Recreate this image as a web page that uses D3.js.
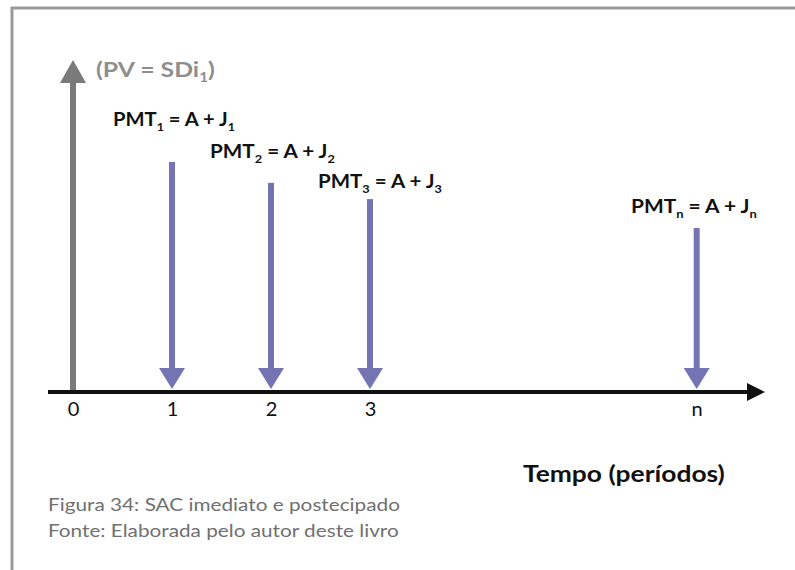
<!DOCTYPE html>
<html>
<head>
<meta charset="utf-8">
<script src="https://cdn.jsdelivr.net/npm/d3@7"></script>
<style>
  body { margin: 0; background: #fff; }
  svg { display: block; }
</style>
</head>
<body>
<div id="chart"></div>
<script>
// periods on the time line and their position (n sits further out)
const periods = ['0', '1', '2', '3', 'n'];
const periodPos = [0, 1, 2, 3, 6.3];
// principal at t=0 (up arrow) and the payments (down arrows), relative sizes
const pvValue = 100;
const pmtValues = [69.3, 63, 58.1, 49.4];
const pmtSubs = ['1', '2', '3', 'n'];
const captionLines = ['Figura 34: SAC imediato e postecipado', 'Fonte: Elaborada pelo autor deste livro'];

const createGraph = () => {
  const width = 795;
  const height = 570;
  const axisY = 392;
  const blue = '#7474b2';

  const x = d3.scaleLinear().domain([0, 1]).range([73, 172]);
  const y = d3.scaleLinear().domain([0, 100]).range([axisY, 60]);

  const svg = d3.select('#chart').append('svg')
    .attr('width', width)
    .attr('height', height)
    .style('font-family', 'Lato, sans-serif');

  // frame (top + left only)
  svg.append('path')
    .attr('d', `M12,${height} V8 H${width}`)
    .attr('fill', 'none')
    .attr('stroke', '#9a9a9a')
    .attr('stroke-width', 3);

  // PV arrow (up)
  const pvTop = y(pvValue);
  svg.append('rect')
    .attr('x', x(0) - 3).attr('y', pvTop + 20)
    .attr('width', 6).attr('height', axisY - pvTop - 20)
    .attr('fill', '#7a7a7a');
  svg.append('path')
    .attr('d', `M${x(0)},${pvTop} L${x(0) + 13},${pvTop + 23} L${x(0) - 13},${pvTop + 23} Z`)
    .attr('fill', '#7a7a7a');

  // payment arrows (down)
  const pmt = svg.selectAll('.pmt')
    .data(pmtValues.map((v, i) => ({ v, pos: periodPos[i + 1], sub: pmtSubs[i] })))
    .enter().append('g')
    .attr('class', 'pmt');

  pmt.append('rect')
    .attr('x', d => x(d.pos) - 3)
    .attr('y', d => y(d.v))
    .attr('width', 6)
    .attr('height', d => axisY - y(d.v) - 20)
    .attr('fill', blue);
  pmt.append('path')
    .attr('d', d => `M${x(d.pos) - 13},${axisY - 24} L${x(d.pos) + 13},${axisY - 24} L${x(d.pos)},${axisY - 3} Z`)
    .attr('fill', blue);

  // time axis line + arrow head
  svg.append('line')
    .attr('x1', 48).attr('x2', 750)
    .attr('y1', axisY).attr('y2', axisY)
    .attr('stroke', '#111').attr('stroke-width', 4);
  svg.append('path')
    .attr('d', `M747,${axisY - 9} L765,${axisY} L747,${axisY + 9} Z`)
    .attr('fill', '#111');

  const axis = d3.axisBottom(x)
    .tickValues(periodPos)
    .tickFormat((d, i) => periods[i])
    .tickSize(0)
    .tickPadding(10);
  const gAxis = svg.append('g')
    .attr('transform', `translate(0,${axisY})`)
    .call(axis);
  gAxis.select('.domain').remove();
  gAxis.selectAll('text')
    .attr('font-family', 'Lato, sans-serif')
    .attr('font-size', 20)
    .attr('fill', '#111');

  // the source picture is a bit stretched sideways, so each label is
  // scaled horizontally to the width it takes there
  const fit = (g, xPos, yPos, targetW) => {
    const w = g.node().getBBox().width;
    g.attr('transform', `translate(${xPos},${yPos}) scale(${targetW / w},1)`);
  };

  // labels with subscripts
  const subLabel = (xPos, yPos, targetW, parts, size, color) => {
    const g = svg.append('g');
    const t = g.append('text')
      .attr('font-size', size)
      .attr('font-weight', 'bold')
      .attr('fill', color);
    let shifted = false;
    parts.forEach(p => {
      if (p.sub) {
        t.append('tspan').attr('dy', 5).attr('font-size', size * 0.62).text(p.sub);
        shifted = true;
      } else {
        t.append('tspan').attr('dy', shifted ? -5 : 0).text(p.t);
        shifted = false;
      }
    });
    fit(g, xPos, yPos, targetW);
  };

  subLabel(96, 77, 119, [{ t: '(PV = SDi' }, { sub: '1' }, { t: ')' }], 20, '#8e8e8e');

  const labelPos = [[113, 126, 122], [210, 158, 125], [318, 188, 124], [631, 213, 126]];
  pmtSubs.forEach((s, i) => {
    subLabel(labelPos[i][0], labelPos[i][1], labelPos[i][2],
      [{ t: 'PMT' }, { sub: s }, { t: ' = A + J' }, { sub: s }], 18, '#111');
  });

  const tempo = svg.append('g');
  tempo.append('text')
    .attr('font-size', 23)
    .attr('font-weight', 'bold')
    .attr('fill', '#111')
    .text('Tempo (períodos)');
  fit(tempo, 523, 482, 202);

  captionLines.forEach((line, i) => {
    const g = svg.append('g');
    g.append('text')
      .attr('font-size', 17)
      .attr('fill', '#707070')
      .text(line);
    fit(g, 48, 511 + i * 26, i === 0 ? 352 : 351);
  });
};

createGraph();
</script>
</body>
</html>
